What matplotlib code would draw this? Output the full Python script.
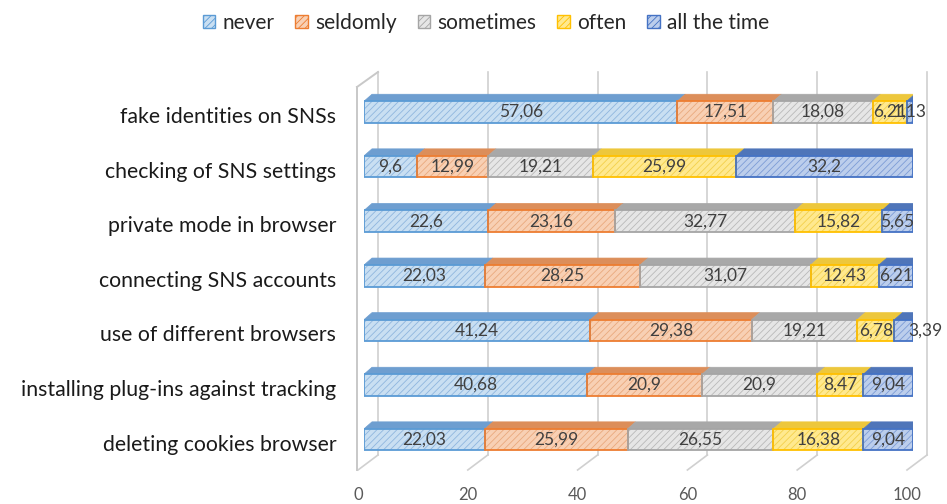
import numpy as np
import matplotlib.pyplot as plt
from matplotlib.patches import Polygon, Patch
from matplotlib import transforms

plt.rcParams['font.family'] = ['Lato', 'DejaVu Sans']
plt.rcParams['hatch.linewidth'] = 0.6

# data (percent of respondents)
categories = ["fake identities on SNSs", "checking of SNS settings", "private mode in browser",
              "connecting SNS accounts", "use of different browsers",
              "installing plug-ins against tracking", "deleting cookies browser"]
levels = ["never", "seldomly", "sometimes", "often", "all the time"]
never = [57.06, 9.6, 22.6, 22.03, 41.24, 40.68, 22.03]
seldomly = [17.51, 12.99, 23.16, 28.25, 29.38, 20.9, 25.99]
sometimes = [18.08, 19.21, 32.77, 31.07, 19.21, 20.9, 26.55]
often = [6.21, 25.99, 15.82, 12.43, 6.78, 8.47, 16.38]
all_time = [1.13, 32.2, 5.65, 6.21, 3.39, 9.04, 9.04]
ticks = [0, 20, 40, 60, 80, 100]

# face, hatch, edge, top face
styles = [
    ('#C9DFF2', '#8FB6DE', '#5B9BD5', '#6E9ED0'),
    ('#F8D0B4', '#E9A97D', '#ED7D31', '#DC8E5A'),
    ('#E6E6E6', '#B9B9B9', '#A5A5A5', '#A8A8A8'),
    ('#FFE98F', '#F3D04A', '#FFC000', '#EDC73C'),
    ('#BCCEEC', '#7D9CD6', '#4472C4', '#4F75B9'),
]
series = [never, seldomly, sometimes, often, all_time]

W, H = 947, 504
fig = plt.figure(figsize=(W / 100, H / 100), dpi=100)
ax = fig.add_axes([364 / W, 34 / H, 549 / W, 430 / H])
ax.set_xlim(0, 100)
ax.set_ylim(6.5568, -1.3187)
for s in ax.spines.values():
    s.set_visible(False)

sx = 100 / 549          # data units per pixel, x
sy = (6.5568 + 1.3187) / 430   # data units per pixel, y
DX, DY = 8 * sx, -7 * sy
bh = 21.5 * sy

y = np.arange(len(categories))
lefts = np.zeros(len(categories))
for k, (vals, (face, hcol, edge, top)) in enumerate(zip(series, styles)):
    vals = np.array(vals)
    ax.barh(y, vals, left=lefts, height=bh, color=face, hatch='/////',
            edgecolor=hcol, linewidth=0, zorder=3)
    ax.barh(y, vals, left=lefts, height=bh, fill=False, edgecolor=edge,
            linewidth=1.3, zorder=4)
    for i in y:
        x0, x1 = lefts[i], lefts[i] + vals[i]
        yt = i - bh / 2
        ax.add_patch(Polygon([(x0, yt), (x1, yt), (x1 + DX, yt + DY), (x0 + DX, yt + DY)],
                             closed=True, facecolor=top, edgecolor=top, lw=0.5, zorder=2.5))
        if k == len(series) - 1:
            ax.add_patch(Polygon([(x1, yt), (x1 + DX, yt + DY), (x1 + DX, yt + bh + DY), (x1, yt + bh)],
                                 closed=True, facecolor=top, edgecolor=edge, lw=0.8, zorder=2.6))
        lab = f"{vals[i]:g}".replace('.', ',')
        xc = x0 + vals[i] / 2
        # excel pushed this tiny last label to the right
        if k == len(series) - 1 and i == 4:
            xc += 22 * sx
        ax.text(xc, i, lab, ha='center', va='center', fontsize=12.5,
                color='#404040', zorder=5)
    lefts += vals

# 3d walls / gridlines
blend = transforms.blended_transform_factory(ax.transData, ax.transAxes)
def shifted(px):
    return blend + transforms.ScaledTranslation(px / 100, 0, fig.dpi_scale_trans)

yb, yt_back = (470 - 455) / 430, (470 - 72) / 430
yt_front = (470 - 87) / 430
for v in ticks:
    col = '#D0D0D0'
    ax.plot([v, v], [yb, yt_back], color=col, lw=1.2, transform=shifted(14), clip_on=False, zorder=1)
    # floor diagonal
    p0 = shifted(14).transform((v, yb))
    p1 = shifted(-6).transform((v, 0))
    ax.plot([p0[0], p1[0]], [p0[1], p1[1]], color=col, lw=1.2, transform=None, clip_on=False, zorder=1)
# left wall
ax.plot([0, 0], [0, yt_front], color='#C8C8C8', lw=1.4, transform=shifted(-7), clip_on=False, zorder=1)
p0 = shifted(-7).transform((0, yt_front))
p1 = shifted(14).transform((0, yt_back))
ax.plot([p0[0], p1[0]], [p0[1], p1[1]], color='#C8C8C8', lw=1.4, transform=None, clip_on=False, zorder=1)

# axes labels
ax.set_yticks(y, categories, fontsize=15.3, color='#1A1A1A')
ax.tick_params(axis='y', length=0, pad=20)
for lab in ax.get_yticklabels():
    lab.set_transform(lab.get_transform() + transforms.ScaledTranslation(0, -3 / 100, fig.dpi_scale_trans))
ax.set_xticks(ticks, [str(t) for t in ticks])
ax.tick_params(axis='x', length=0, pad=12, labelsize=12, labelcolor='#595959')
for lab in ax.get_xticklabels():
    lab.set_transform(lab.get_transform() + transforms.ScaledTranslation(-6 / 100, 0, fig.dpi_scale_trans))

handles = [Patch(facecolor=f, edgecolor=e, hatch='/////', lw=1) for f, h, e, t in styles]
fig.legend(handles, levels, loc='center', bbox_to_anchor=(486 / W, 1 - 23 / H), ncol=5,
           frameon=False, fontsize=15, handlelength=0.6, handleheight=0.6,
           handletextpad=0.35, columnspacing=1.0, labelcolor='#262626')

fig.savefig('out.png', dpi=100)
